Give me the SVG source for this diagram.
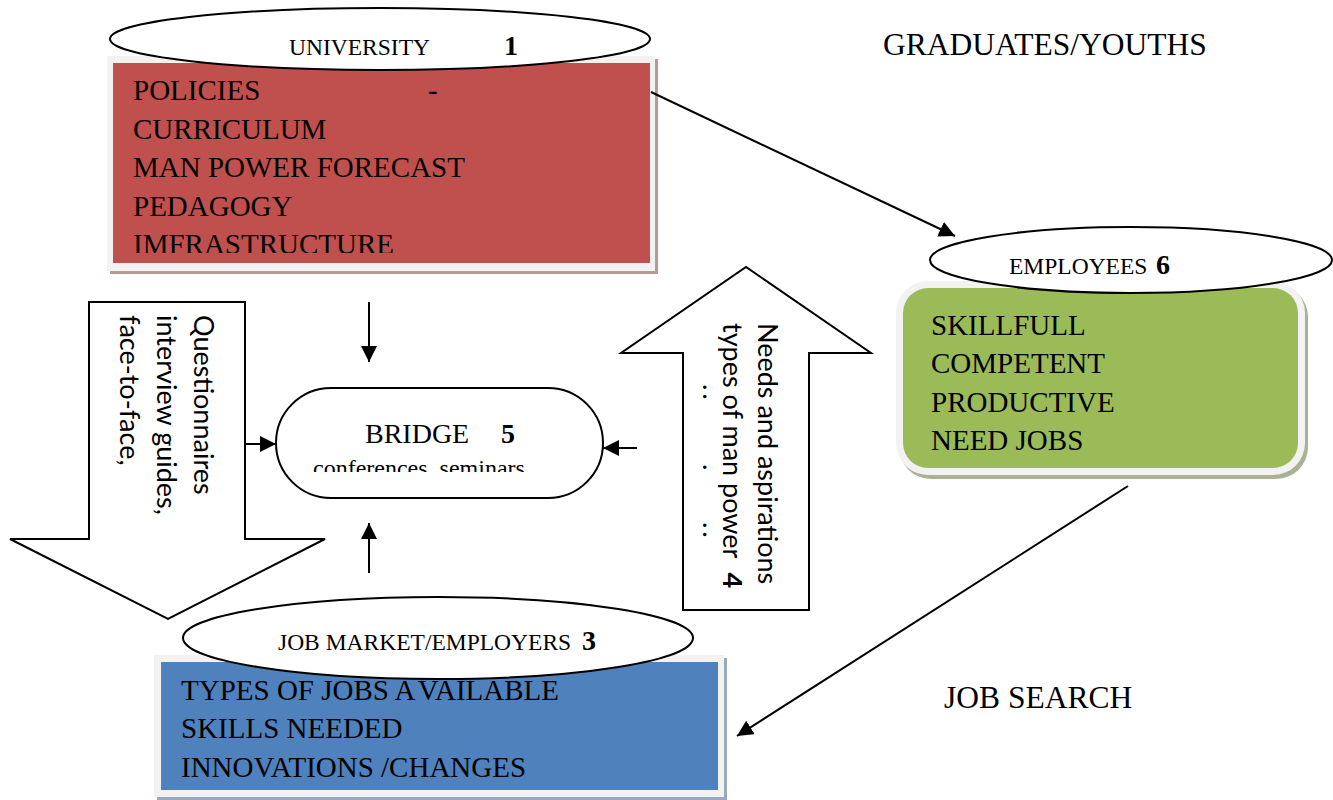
<svg xmlns="http://www.w3.org/2000/svg" width="1333" height="800" viewBox="0 0 1333 800">
  <style>
    .serif { font-family: "Liberation Serif", "Times New Roman", serif; fill: #000; }
    .body { font-size: 29px; }
    .title { font-size: 23.5px; }
    .num { font-weight: bold; font-size: 28px; }
    .side { font-family: Lato, "Open Sans", sans-serif; font-size: 27px; fill: #000; }
    .oval { fill: #fff; stroke: #000; stroke-width: 2; }
    .big-arrow { fill: #fff; stroke: #000; stroke-width: 2; }
    .edge { stroke: #000; stroke-width: 2; fill: none; marker-end: url(#tip); }
  </style>
  <defs>
    <marker id="tip" viewBox="0 0 16 16" refX="16" refY="8" markerWidth="16" markerHeight="16" markerUnits="userSpaceOnUse" orient="auto">
      <path d="M0,0 L16,8 L0,16 z" fill="#000"/>
    </marker>
    <clipPath id="clip-university"><rect x="113" y="63" width="537" height="190"/></clipPath>
    <clipPath id="clip-bridge"><rect x="276" y="388" width="327" height="84"/></clipPath>
  </defs>

  <rect width="1333" height="800" fill="#fff"/>

  <!-- free-standing labels -->
  <text class="serif" x="883" y="55" font-size="31.5">GRADUATES/YOUTHS</text>
  <text class="serif" x="944" y="708" font-size="31.5">JOB SEARCH</text>

  <!-- 1: university -->
  <g id="university">
    <rect x="110" y="59" width="548" height="215" fill="#bb9898"/>
    <rect x="107" y="56" width="548" height="215" fill="#f2f2f2"/>
    <rect x="113" y="63" width="537" height="200" fill="#c0504d"/>
    <g class="serif body" clip-path="url(#clip-university)">
      <text x="133" y="100">POLICIES</text>
      <text x="428" y="100">-</text>
      <text x="133" y="138.5">CURRICULUM</text>
      <text x="133" y="177">MAN POWER FORECAST</text>
      <text x="133" y="215.5">PEDAGOGY</text>
      <text x="133" y="254">IMFRASTRUCTURE</text>
    </g>
    <ellipse class="oval" cx="380" cy="39" rx="270" ry="31"/>
    <text class="serif title" x="289" y="55">UNIVERSITY</text>
    <text class="serif num" x="504" y="55">1</text>
  </g>

  <!-- 2: downward flow, data collection -->
  <g id="collection-arrow">
    <path class="big-arrow" d="M89,302 L245,302 L245,539 L325,539 L168,619 L10,539 L89,539 Z"/>
    <text class="side" transform="translate(194,315) rotate(90)">Questionnaires</text>
    <text class="side" transform="translate(157,315) rotate(90)">interview guides,</text>
    <text class="side" transform="translate(120,315) rotate(90)">face-to-face,</text>
  </g>

  <!-- 4: upward flow, needs -->
  <g id="needs-arrow">
    <path class="big-arrow" d="M683,610 L809,610 L809,353 L871,353 L746,267 L621,353 L683,353 Z"/>
    <text class="side" transform="translate(758,323) rotate(90)">Needs and aspirations</text>
    <text class="side" transform="translate(723,323) rotate(90)">types of man power<tspan dx="14" font-weight="bold">4</tspan></text>
    <text class="side" transform="translate(703,384) rotate(90)" letter-spacing="3">..</text>
    <text class="side" transform="translate(703,464) rotate(90)">.</text>
    <text class="side" transform="translate(703,522) rotate(90)" letter-spacing="3">..</text>
  </g>

  <!-- 5: bridge -->
  <g id="bridge">
    <rect class="oval" x="276" y="388" width="327" height="110" rx="55" ry="55"/>
    <text class="serif" x="365" y="443" font-size="28">BRIDGE</text>
    <text class="serif num" x="501" y="443">5</text>
    <text class="serif" x="313" y="476" font-size="24" clip-path="url(#clip-bridge)">conferences, seminars</text>
  </g>

  <!-- 6: employees -->
  <g id="employees">
    <rect x="899" y="285" width="409" height="194" rx="32" ry="32" fill="#a9b292"/>
    <rect x="896" y="281" width="409" height="194" rx="32" ry="32" fill="#f2f2f2"/>
    <rect x="903" y="288" width="395" height="180" rx="25" ry="25" fill="#9bbb59"/>
    <g class="serif body">
      <text x="931" y="335">SKILLFULL</text>
      <text x="931" y="373">COMPETENT</text>
      <text x="931" y="412">PRODUCTIVE</text>
      <text x="931" y="450">NEED JOBS</text>
    </g>
    <ellipse class="oval" cx="1131" cy="260" rx="201" ry="33"/>
    <text class="serif title" x="1009" y="274">EMPLOYEES</text>
    <text class="serif num" x="1156" y="274">6</text>
  </g>

  <!-- 3: job market -->
  <g id="job-market">
    <rect x="157" y="658" width="570" height="142" fill="#9aa9bf"/>
    <rect x="154" y="655" width="570" height="142" fill="#f2f2f2"/>
    <rect x="161" y="662" width="557" height="128" fill="#4f81bd"/>
    <g class="serif body">
      <text x="181" y="700">TYPES OF JOBS A<tspan dx="6">VAILABLE</tspan></text>
      <text x="181" y="738">SKILLS NEEDED</text>
      <text x="181" y="777">INNOVATIONS /CHANGES</text>
    </g>
    <ellipse class="oval" cx="438" cy="638" rx="255" ry="41"/>
    <text class="serif title" x="278" y="650">JOB MARKET/EMPLOYERS</text>
    <text class="serif num" x="582" y="650">3</text>
  </g>

  <!-- connectors -->
  <g id="connectors">
    <line class="edge" x1="651" y1="92" x2="955" y2="236"/>
    <line class="edge" x1="1128" y1="486" x2="737" y2="736"/>
    <line class="edge" x1="369" y1="302" x2="369" y2="362"/>
    <line class="edge" x1="369" y1="573" x2="369" y2="523"/>
    <line class="edge" x1="245" y1="444" x2="276" y2="444"/>
    <line class="edge" x1="637" y1="448" x2="603" y2="448"/>
  </g>
</svg>
